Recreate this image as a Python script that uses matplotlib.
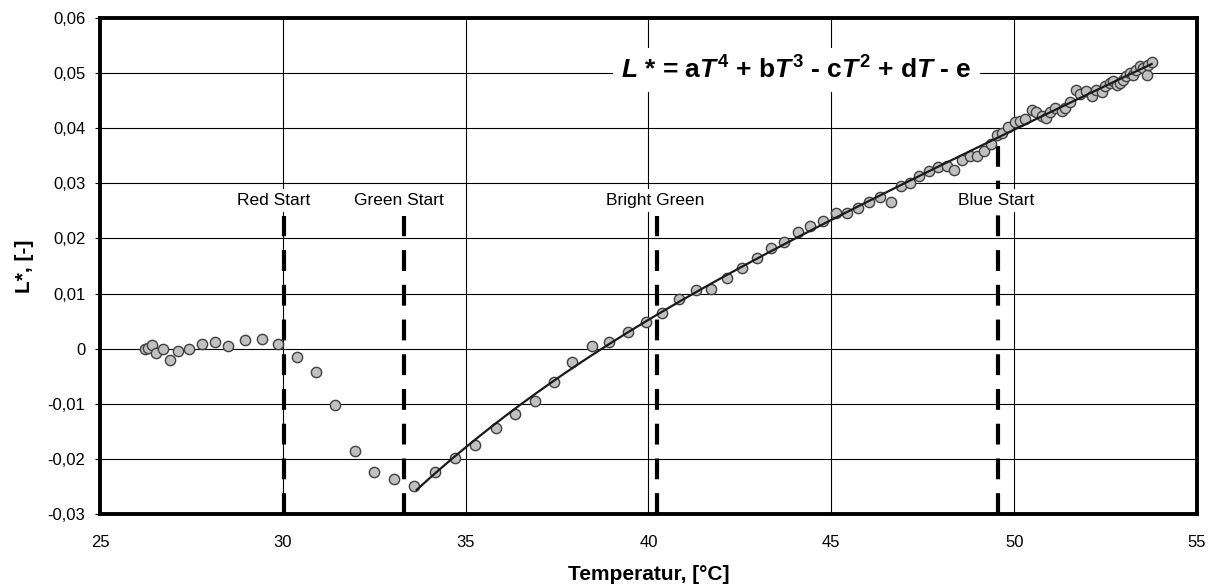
import numpy as np
import matplotlib
matplotlib.use("Agg")
import matplotlib.pyplot as plt

# ---------------- data ----------------
temperature = [
    26.23, 26.32, 26.43, 26.53, 26.71, 26.92, 27.14, 27.44, 27.78, 28.15,
    28.51, 28.96, 29.43, 29.88, 30.40, 30.92, 31.43, 31.98, 32.50, 33.05,
    33.60, 34.15, 34.71, 35.25, 35.82, 36.35, 36.89, 37.42, 37.92, 38.45,
    38.93, 39.45, 39.93, 40.36, 40.84, 41.30, 41.71, 42.14, 42.56, 42.96,
    43.35, 43.71, 44.10, 44.41, 44.76, 45.12, 45.43, 45.74, 46.04, 46.33,
    46.62, 46.90, 47.15, 47.40, 47.66, 47.92, 48.15, 48.36, 48.56, 48.79,
    48.99, 49.18, 49.38, 49.52, 49.68, 49.84, 50.02, 50.16, 50.29, 50.48,
    50.61, 50.75, 50.87, 50.98, 51.11, 51.30, 51.39, 51.53, 51.69, 51.80,
    51.96, 52.12, 52.25, 52.39, 52.48, 52.62, 52.71, 52.80, 52.89, 52.98,
    53.07, 53.16, 53.24, 53.33, 53.44, 53.53, 53.62, 53.67, 53.76,
]
lightness = [
    0.0000, 0.0001, 0.0007, -0.0008, 0.0000, -0.0020, -0.0004, 0.0000, 0.0009, 0.0012,
    0.0005, 0.0015, 0.0018, 0.0009, -0.0016, -0.0042, -0.0102, -0.0186, -0.0224, -0.0237,
    -0.0249, -0.0223, -0.0198, -0.0174, -0.0144, -0.0118, -0.0095, -0.0060, -0.0025, 0.0005,
    0.0012, 0.0031, 0.0049, 0.0065, 0.0090, 0.0106, 0.0109, 0.0129, 0.0147, 0.0165,
    0.0182, 0.0194, 0.0211, 0.0222, 0.0232, 0.0247, 0.0247, 0.0255, 0.0267, 0.0275,
    0.0267, 0.0295, 0.0301, 0.0314, 0.0322, 0.0330, 0.0332, 0.0325, 0.0343, 0.0350,
    0.0350, 0.0359, 0.0372, 0.0388, 0.0391, 0.0402, 0.0411, 0.0413, 0.0417, 0.0433,
    0.0429, 0.0422, 0.0419, 0.0429, 0.0436, 0.0431, 0.0437, 0.0447, 0.0469, 0.0463,
    0.0467, 0.0458, 0.0469, 0.0466, 0.0476, 0.0482, 0.0486, 0.0479, 0.0482, 0.0488,
    0.0494, 0.0501, 0.0497, 0.0506, 0.0512, 0.0509, 0.0497, 0.0515, 0.0521,
]
fit_start_temperature = 33.6   # trendline fitted from here on (Excel-style 4th order)

event_names = ["Red Start", "Green Start", "Bright Green", "Blue Start"]
event_temperature = [30.03, 33.31, 40.24, 49.57]
event_line_top = [0.0241, 0.0241, 0.0241, 0.0380]
event_label_x = [29.76, 33.16, 40.17, 49.50]
event_label_y = 0.0269

x_ticks = [25, 30, 35, 40, 45, 50, 55]
y_ticks = [-0.03, -0.02, -0.01, 0.0, 0.01, 0.02, 0.03, 0.04, 0.05, 0.06]
y_tick_labels = ["-0,03", "-0,02", "-0,01", "0", "0,01", "0,02", "0,03", "0,04", "0,05", "0,06"]

formula = r"$L$ * = a$T^{\mathregular{4}}$ + b$T^3$ - c$T^2$ + d$T$ - e"
x_label = "Temperatur, [°C]"
y_label = "L*, [-]"

# ---------------- style ----------------
plt.rcParams["font.family"] = ["Liberation Sans", "DejaVu Sans"]
plt.rcParams["mathtext.fontset"] = "custom"
plt.rcParams["mathtext.it"] = "Liberation Sans:italic:bold"
plt.rcParams["mathtext.rm"] = "Liberation Sans:bold"
plt.rcParams["mathtext.bf"] = "Liberation Sans:bold"

fig = plt.figure(figsize=(12.19, 5.85), dpi=100)
ax = fig.add_axes([100 / 1219, 1 - 514 / 585, 1097 / 1219, 496 / 585])

ax.set_xlim(25, 55)
ax.set_ylim(-0.03, 0.06)
ax.set_xticks(x_ticks)
ax.set_xticklabels([str(t) for t in x_ticks])
ax.set_yticks(y_ticks)
ax.set_yticklabels(y_tick_labels)

ax.grid(True, color="black", linewidth=0.8, zorder=0)
ax.set_axisbelow(True)
for sp in ax.spines.values():
    sp.set_linewidth(2.8)
    sp.set_color("black")
    sp.set_zorder(6)

ax.tick_params(axis="y", direction="out", length=3.6, width=0.8, pad=7, labelsize=12)
ax.tick_params(axis="x", length=0, pad=15, labelsize=12)

ax.set_xlabel(x_label, fontsize=15, fontweight="bold", labelpad=11)
ax.set_ylabel(y_label, fontsize=15, fontweight="bold", labelpad=10)

# event dashed lines
lw_dash = 3.0
for xe, top in zip(event_temperature, event_line_top):
    ax.plot([xe, xe], [-0.03, top], color="black", linewidth=lw_dash,
            dashes=(15 / lw_dash, 10 / lw_dash), zorder=2, solid_capstyle="butt",
            dash_capstyle="butt")

# scatter points
ax.plot(temperature, lightness, linestyle="none", marker="o", markersize=7.4,
        markerfacecolor="#c0c0c0", markeredgecolor="#404040", markeredgewidth=1.0,
        zorder=3)

# 4th-order trendline
t_arr = np.array(temperature)
l_arr = np.array(lightness)
mask = t_arr >= fit_start_temperature
coef = np.polyfit(t_arr[mask], l_arr[mask], 4)
t_fit = np.linspace(t_arr[mask].min() + 0.06, t_arr[mask].max(), 300)
ax.plot(t_fit, np.polyval(coef, t_fit), color="#1a1a1a", linewidth=1.6, zorder=4)

# event labels
for name, lx in zip(event_names, event_label_x):
    ax.text(lx, event_label_y, name, fontsize=12.5, ha="center", va="center",
            zorder=5, bbox=dict(facecolor="white", edgecolor="none", pad=3))

# formula
ax.text(44.05, 0.0506, formula, fontsize=19, fontweight="bold", ha="center",
        va="center", zorder=5,
        bbox=dict(facecolor="white", edgecolor="none", pad=6))

fig.savefig("out.png", dpi=100)
